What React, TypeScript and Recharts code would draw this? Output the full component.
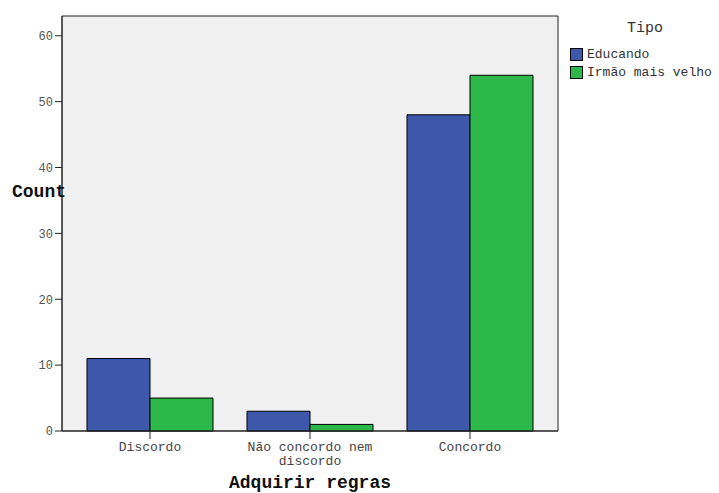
import { Bar, BarChart, CartesianGrid, XAxis, YAxis } from 'recharts'

const categories = ['Discordo', 'Não concordo nem\ndiscordo', 'Concordo']
const educando = [11, 3, 48]
const irmao = [5, 1, 54]
const yTicks = [0, 10, 20, 30, 40, 50, 60]

const FONT = '"Liberation Mono", "DejaVu Sans Mono", monospace'
const BLUE = '#3d57ab'
const GREEN = '#2db84a'

const chartData = categories.map((name, i) => ({
  name,
  educando: educando[i],
  irmao: irmao[i],
}))

function CategoryTick(props: any) {
  const { x, y, payload } = props
  const lines = String(payload.value).split('\n')
  return (
    <g transform={`translate(${x},${y})`}>
      {lines.map((line, i) => (
        <text
          key={i}
          x={0}
          y={10 + i * 14}
          textAnchor="middle"
          fontFamily={FONT}
          fontSize={13}
          fill="#444"
        >
          {line}
        </text>
      ))}
    </g>
  )
}

export default function App() {
  return (
    <div style={{ position: 'absolute', left: 0, top: 0, width: 719, height: 493, background: '#fff' }}>
      <BarChart
        width={719}
        height={493}
        data={chartData}
        margin={{ top: 16, right: 161, bottom: 0, left: 0 }}
        barGap={0}
        barCategoryGap={17}
      >
        <CartesianGrid
          fill="#f0f0f0"
          stroke="#222"
          strokeOpacity={1}
          horizontalCoordinatesGenerator={({ offset }: any) => [offset.top, offset.top + offset.height]}
          verticalCoordinatesGenerator={({ offset }: any) => [offset.left, offset.left + offset.width]}
        />
        <XAxis
          dataKey="name"
          height={62}
          padding={{ left: 8, right: 8 }}
          interval={0}
          tick={<CategoryTick />}
          tickSize={8}
          axisLine={{ stroke: '#222' }}
          tickLine={{ stroke: '#222' }}
        />
        <YAxis
          width={62}
          domain={[0, 63]}
          ticks={yTicks}
          tickSize={7}
          tick={{ fontFamily: FONT, fontSize: 12, fill: '#555' }}
          axisLine={{ stroke: '#222' }}
          tickLine={{ stroke: '#222' }}
        />
        <Bar dataKey="educando" fill={BLUE} stroke="#000" strokeWidth={1} isAnimationActive={false} />
        <Bar dataKey="irmao" fill={GREEN} stroke="#000" strokeWidth={1} isAnimationActive={false} />
      </BarChart>

      <div style={{ position: 'absolute', left: 12, top: 182, fontFamily: FONT, fontSize: 18, fontWeight: 'bold', color: '#111' }}>
        Count
      </div>
      <div style={{ position: 'absolute', left: 62, width: 496, top: 473, textAlign: 'center', fontFamily: FONT, fontSize: 18, fontWeight: 'bold', color: '#111' }}>
        Adquirir regras
      </div>

      <div style={{ position: 'absolute', left: 570, top: 20, fontFamily: FONT, color: '#333' }}>
        <div style={{ width: 150, textAlign: 'center', fontSize: 15, marginBottom: 8 }}>Tipo</div>
        {[
          { label: 'Educando', color: BLUE },
          { label: 'Irmão mais velho', color: GREEN },
        ].map((item) => (
          <div key={item.label} style={{ display: 'flex', alignItems: 'center', height: 18, fontSize: 13 }}>
            <span style={{ display: 'inline-block', width: 11, height: 11, background: item.color, border: '1px solid #000', marginRight: 4 }} />
            {item.label}
          </div>
        ))}
      </div>
    </div>
  )
}
